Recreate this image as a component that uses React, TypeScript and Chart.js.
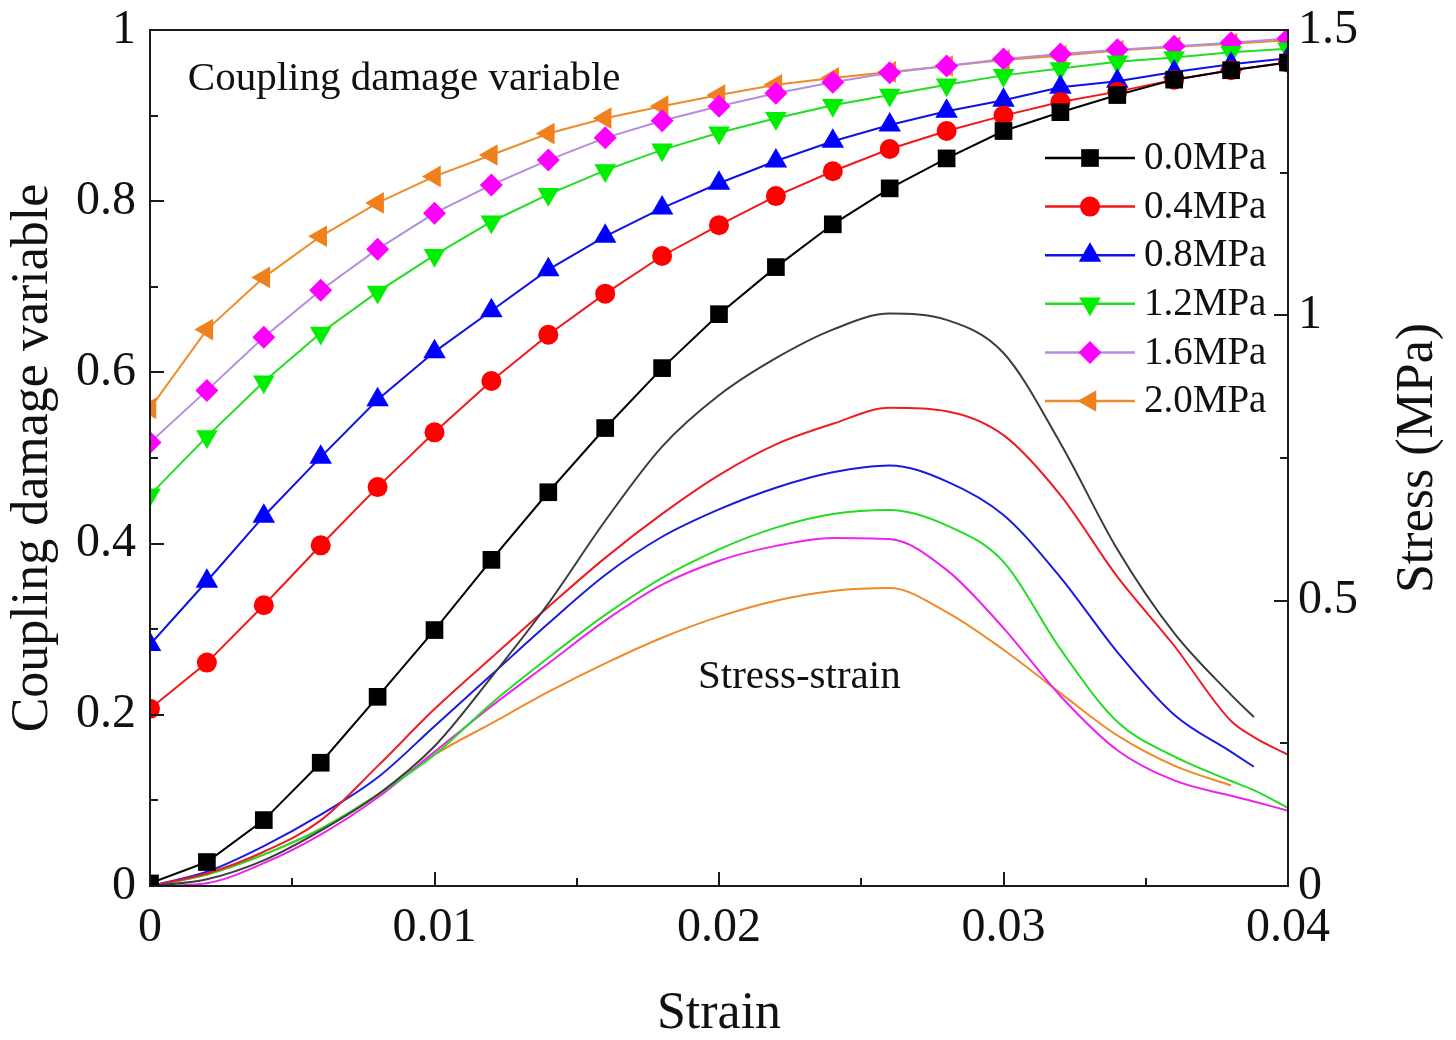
import React, { useEffect, useRef } from 'react';
import { Chart, registerables } from 'chart.js';

Chart.register(...registerables);

const FONT = '"Liberation Serif", "Times New Roman", Times, serif';

// ---------- data ----------
const seriesLabels = ['0.0MPa', '0.4MPa', '0.8MPa', '1.2MPa', '1.6MPa', '2.0MPa'];

// coupling damage variable (left axis)
const damageStrain = [0, 0.002, 0.004, 0.006, 0.008, 0.01, 0.012, 0.014, 0.016, 0.018, 0.02,
  0.022, 0.024, 0.026, 0.028, 0.03, 0.032, 0.034, 0.036, 0.038, 0.04];
const damage00 = [0.003, 0.028, 0.077, 0.144, 0.221, 0.299, 0.381, 0.46, 0.535, 0.605, 0.668,
  0.723, 0.773, 0.815, 0.85, 0.882, 0.904, 0.924, 0.942, 0.953, 0.962];
const damage04 = [0.207, 0.261, 0.328, 0.398, 0.466, 0.53, 0.59, 0.644, 0.692, 0.736, 0.772,
  0.806, 0.835, 0.861, 0.882, 0.9, 0.916, 0.928, 0.942, 0.953, 0.962];
const damage08 = [0.282, 0.356, 0.432, 0.501, 0.568, 0.624, 0.672, 0.72, 0.759, 0.792, 0.821,
  0.847, 0.87, 0.889, 0.905, 0.918, 0.933, 0.94, 0.951, 0.96, 0.967];
const damage12 = [0.457, 0.525, 0.589, 0.646, 0.694, 0.737, 0.776, 0.808, 0.836, 0.86, 0.88,
  0.897, 0.912, 0.924, 0.936, 0.947, 0.955, 0.963, 0.968, 0.974, 0.978];
const damage16 = [0.518, 0.579, 0.641, 0.696, 0.744, 0.786, 0.819, 0.848, 0.874, 0.894, 0.911,
  0.926, 0.939, 0.95, 0.958, 0.966, 0.972, 0.977, 0.981, 0.985, 0.99];
const damage20 = [0.558, 0.65, 0.711, 0.759, 0.798, 0.829, 0.854, 0.879, 0.897, 0.911, 0.924,
  0.936, 0.944, 0.951, 0.958, 0.965, 0.97, 0.976, 0.98, 0.984, 0.988];

// stress-strain curves (right axis, MPa)
const stressStrain = [0, 0.002, 0.004, 0.006, 0.008, 0.01, 0.012, 0.014, 0.016, 0.018, 0.02,
  0.022, 0.024, 0.026, 0.028, 0.03, 0.032, 0.034, 0.036, 0.038, 0.0388, 0.04];
const stress00 = [0, 0.012, 0.045, 0.097, 0.16, 0.245, 0.366, 0.495, 0.64, 0.77, 0.86,
  0.925, 0.975, 1.003, 0.992, 0.934, 0.776, 0.59, 0.443, 0.335, 0.296, null];
const stress04 = [0, 0.022, 0.06, 0.115, 0.21, 0.31, 0.4, 0.489, 0.575, 0.652, 0.72,
  0.774, 0.81, 0.838, 0.832, 0.79, 0.685, 0.542, 0.421, 0.289, 0.261, 0.23];
const stress08 = [0, 0.025, 0.07, 0.125, 0.19, 0.28, 0.37, 0.46, 0.545, 0.612, 0.66,
  0.698, 0.725, 0.737, 0.709, 0.65, 0.541, 0.41, 0.3, 0.235, 0.209, null];
const stress12 = [0, 0.02, 0.055, 0.1, 0.16, 0.23, 0.32, 0.4, 0.475, 0.54, 0.59,
  0.628, 0.652, 0.659, 0.632, 0.568, 0.415, 0.288, 0.227, 0.184, 0.168, 0.137];
const stress16 = [0, 0.005, 0.04, 0.09, 0.155, 0.235, 0.315, 0.39, 0.465, 0.528, 0.57,
  0.596, 0.61, 0.608, 0.554, 0.452, 0.333, 0.238, 0.185, 0.158, 0.148, 0.132];
const stress20 = [0, 0.02, 0.055, 0.1, 0.16, 0.23, 0.285, 0.34, 0.39, 0.435, 0.472,
  0.5, 0.517, 0.522, 0.48, 0.414, 0.338, 0.264, 0.211, 0.176, null, null];

// axes
const xTicks = [0, 0.01, 0.02, 0.03, 0.04];
const xMinorTicks = [0.005, 0.015, 0.025, 0.035];
const damageTicks = [0, 0.2, 0.4, 0.6, 0.8, 1];
const damageMinorTicks = [0.1, 0.3, 0.5, 0.7, 0.9];
const stressTicks = [0, 0.5, 1, 1.5];
const stressMinorTicks = [0.25, 0.75, 1.25];

// ---------- styles ----------
const damageSeries = [damage00, damage04, damage08, damage12, damage16, damage20];
const stressSeries = [stress00, stress04, stress08, stress12, stress16, stress20];
const markerColors = ['#000000', '#ff0000', '#0000ff', '#00ee00', '#ff00ff', '#f07f1e'];
const damageLineColors = ['#000000', '#f01818', '#1010e8', '#22dd22', '#b48ce0', '#f08a2a'];
const stressLineColors = ['#3c3c3c', '#ee1c24', '#1a1ae0', '#22dd22', '#ee22ee', '#f08a2a'];
const markerStyles = ['rect', 'circle', 'triangle', 'triangle', 'rectRot', 'triangle'];
const markerRotations = [0, 0, 0, 180, 0, 270];
const markerRadii = [12.5, 10, 13, 12.5, 11.5, 12.5];

function drawMarker(ctx: CanvasRenderingContext2D, style: string, rotation: number, x: number, y: number, r: number) {
  let rad = (rotation * Math.PI) / 180;
  ctx.beginPath();
  if (style === 'circle') {
    ctx.arc(x, y, r, 0, Math.PI * 2);
  } else if (style === 'rect') {
    const s = Math.SQRT1_2 * r;
    ctx.rect(x - s, y - s, 2 * s, 2 * s);
  } else if (style === 'rectRot') {
    ctx.moveTo(x, y - r);
    ctx.lineTo(x + r, y);
    ctx.lineTo(x, y + r);
    ctx.lineTo(x - r, y);
    ctx.closePath();
  } else {
    ctx.moveTo(x + Math.sin(rad) * r, y - Math.cos(rad) * r);
    rad += (2 * Math.PI) / 3;
    ctx.lineTo(x + Math.sin(rad) * r, y - Math.cos(rad) * r);
    rad += (2 * Math.PI) / 3;
    ctx.lineTo(x + Math.sin(rad) * r, y - Math.cos(rad) * r);
    ctx.closePath();
  }
  ctx.fill();
}

const decorPlugin = {
  id: 'decor',
  afterDraw(chart: any) {
    const { ctx, chartArea: a, scales } = chart;
    ctx.save();
    // frame
    ctx.strokeStyle = '#1a1a1a';
    ctx.lineWidth = 2;
    ctx.strokeRect(a.left, a.top, a.right - a.left, a.bottom - a.top);
    // inward ticks
    const MAJ = 14, MIN = 8;
    const hTicks = (vals: number[], len: number) => {
      vals.forEach((v) => {
        const px = Math.round(scales.x.getPixelForValue(v));
        ctx.beginPath();
        ctx.moveTo(px, a.bottom);
        ctx.lineTo(px, a.bottom - len);
        ctx.stroke();
      });
    };
    const vTicks = (scale: any, vals: number[], len: number, left: boolean) => {
      vals.forEach((v) => {
        const py = Math.round(scale.getPixelForValue(v));
        ctx.beginPath();
        if (left) { ctx.moveTo(a.left, py); ctx.lineTo(a.left + len, py); }
        else { ctx.moveTo(a.right, py); ctx.lineTo(a.right - len, py); }
        ctx.stroke();
      });
    };
    hTicks(xTicks, MAJ);
    hTicks(xMinorTicks, MIN);
    vTicks(scales.y, damageTicks, MAJ, true);
    vTicks(scales.y, damageMinorTicks, MIN, true);
    vTicks(scales.y1, stressTicks, MAJ, false);
    vTicks(scales.y1, stressMinorTicks, MIN, false);

    // right axis title (reads bottom-to-top)
    ctx.fillStyle = '#111';
    ctx.font = `52px ${FONT}`;
    ctx.textAlign = 'center';
    ctx.textBaseline = 'middle';
    ctx.save();
    ctx.translate(a.right + 130, (a.top + a.bottom) / 2);
    ctx.rotate(-Math.PI / 2);
    ctx.fillText('Stress (MPa)', 0, 0);
    ctx.restore();

    // annotations
    ctx.font = `41px ${FONT}`;
    ctx.textAlign = 'left';
    ctx.fillText('Coupling damage variable', scales.x.getPixelForValue(0.00133), scales.y.getPixelForValue(0.942));
    ctx.fillText('Stress-strain', scales.x.getPixelForValue(0.01926), scales.y1.getPixelForValue(0.366));

    // legend
    const lx0 = a.right - 243, lx1 = a.right - 153, mx = a.right - 198, tx = a.right - 144;
    const ly0 = a.top + 128, dy = 48.6;
    ctx.font = `39px ${FONT}`;
    seriesLabels.forEach((lab, i) => {
      const y = ly0 + i * dy;
      ctx.strokeStyle = damageLineColors[i];
      ctx.lineWidth = 2.5;
      ctx.beginPath();
      ctx.moveTo(lx0, y);
      ctx.lineTo(lx1, y);
      ctx.stroke();
      ctx.fillStyle = markerColors[i];
      drawMarker(ctx, markerStyles[i], markerRotations[i], mx, y, markerRadii[i]);
      ctx.fillStyle = '#111';
      ctx.fillText(lab, tx, y + 1);
    });
    ctx.restore();
  },
};

export default function App() {
  const ref = useRef<HTMLCanvasElement>(null);
  useEffect(() => {
    document.body.style.margin = '0';
    const damageSets = damageSeries.map((vals, i) => ({
      label: seriesLabels[i],
      yAxisID: 'y',
      data: damageStrain.map((s, j) => ({ x: s, y: vals[j] })),
      borderColor: damageLineColors[i],
      borderWidth: 2,
      backgroundColor: markerColors[i],
      pointStyle: markerStyles[i],
      pointRotation: markerRotations[i],
      pointRadius: markerRadii[i],
      pointBackgroundColor: markerColors[i],
      pointBorderColor: markerColors[i],
      pointBorderWidth: 0,
      tension: 0,
      clip: 0,
    }));
    const stressSets = stressSeries.map((vals, i) => ({
      label: seriesLabels[i] + ' stress',
      yAxisID: 'y1',
      data: stressStrain.map((s, j) => ({ x: s, y: vals[j] })),
      borderColor: stressLineColors[i],
      borderWidth: 2,
      pointRadius: 0,
      cubicInterpolationMode: 'monotone',
      spanGaps: false,
      clip: 0,
    }));
    const tickFont = { family: FONT, size: 48, lineHeight: 1 };
    const noPad = (s: any) => { s.paddingTop = 0; s.paddingBottom = 0; s.paddingLeft = 0; s.paddingRight = 0; };
    const chart = new Chart(ref.current as HTMLCanvasElement, {
      type: 'line',
      data: { datasets: [...damageSets, ...stressSets] as any },
      plugins: [decorPlugin],
      options: {
        responsive: false,
        animation: false,
        devicePixelRatio: 1,
        layout: { padding: { top: 30, left: 0, right: 0, bottom: 0 } },
        plugins: { legend: { display: false }, tooltip: { enabled: false } },
        scales: {
          x: {
            type: 'linear',
            min: 0,
            max: 0.04,
            afterBuildTicks: (s: any) => { s.ticks = xTicks.map((v) => ({ value: v })); },
            afterFit: (s: any) => { s.height = 154; noPad(s); },
            grid: { display: false, drawTicks: false },
            border: { display: false },
            ticks: { font: tickFont, color: '#111', padding: 18, maxRotation: 0, callback: (v: any) => String(v) },
            title: { display: true, text: 'Strain', color: '#111', font: { family: FONT, size: 52, lineHeight: 1 }, padding: { top: 0, bottom: 0 } },
          },
          y: {
            type: 'linear',
            position: 'left',
            min: 0,
            max: 1,
            afterBuildTicks: (s: any) => { s.ticks = damageTicks.map((v) => ({ value: v })); },
            afterFit: (s: any) => { s.width = 150; noPad(s); },
            grid: { display: false, drawTicks: false },
            border: { display: false },
            ticks: { font: tickFont, color: '#111', padding: 14, callback: (v: any) => String(v) },
            title: { display: true, text: 'Coupling damage variable', color: '#111', font: { family: FONT, size: 52, lineHeight: 1 }, padding: { top: 7, bottom: 0 } },
          },
          y1: {
            type: 'linear',
            position: 'right',
            min: 0,
            max: 1.5,
            afterBuildTicks: (s: any) => { s.ticks = stressTicks.map((v) => ({ value: v })); },
            afterFit: (s: any) => { s.width = 168; noPad(s); },
            grid: { display: false, drawTicks: false },
            border: { display: false },
            ticks: { font: tickFont, color: '#111', padding: 10, callback: (v: any) => String(v) },
          },
        },
      } as any,
    });
    return () => chart.destroy();
  }, []);
  return (
    <div style={{ width: 1456, height: 1040, background: '#fff' }}>
      <canvas ref={ref} width={1456} height={1040} style={{ display: 'block', width: 1456, height: 1040 }} />
    </div>
  );
}
